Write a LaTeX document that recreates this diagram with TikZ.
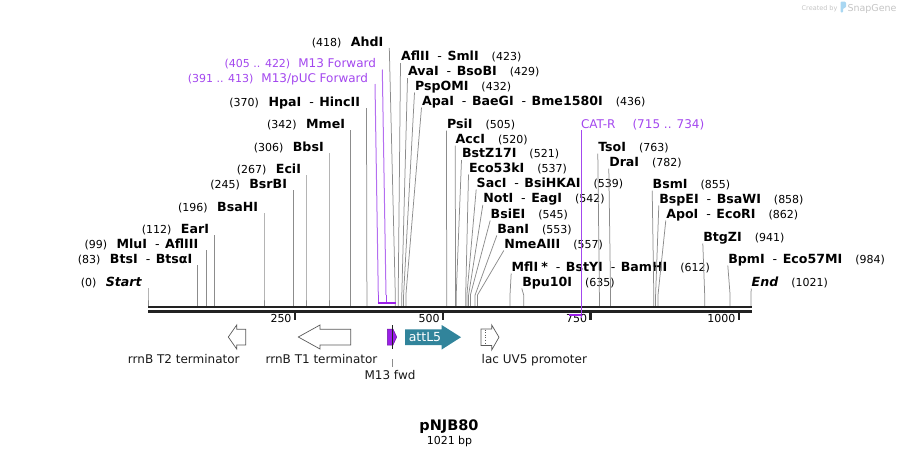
\documentclass[tikz,border=0pt]{standalone}
\usepackage{fontspec}
\setmainfont{DejaVu Sans}
\definecolor{cutgray}{HTML}{8C8C8C}
\definecolor{bb}{HTML}{222222}
\definecolor{prim}{HTML}{A347EE}
\definecolor{primline}{HTML}{B46EF0}
\definecolor{featpurple}{HTML}{9B1FE8}
\definecolor{tealf}{HTML}{31849B}
\definecolor{featline}{HTML}{5A5A5A}
\definecolor{wm}{HTML}{C4C4C4}
\definecolor{wmblue}{HTML}{A9D7F2}
\newcommand\rpos[1]{{\fontsize{11pt}{12pt}\selectfont(#1)}}
\newcommand\renz[1]{{\fontsize{12.6pt}{14pt}\selectfont\bfseries #1}}
\newcommand\rdash{\hspace{8pt}{\mdseries -}\hspace{5.5pt}}
\newcommand\cutL[7]{%
  \node[lbl, anchor=base east] (#1) at (#2,#3) {\rpos{#6}\hspace{9.5pt}\renz{#7}};
  \coordinate (#1t) at (#4,#3+2);
  \coordinate (#1b) at (#5,295);
  \coordinate (#1s) at (#5,306);
  \draw[cut] (#1t) -- (#1b) -- (#1s);
}
\newcommand\cutR[6]{%
  \node[lbl, anchor=base west] (#1) at (#2,#3) {\renz{#5}\hspace{13pt}\rpos{#6}};
  \coordinate (#1t) at (#2-0.5,#3+2.5);
  \coordinate (#1b) at (#4,295);
  \coordinate (#1s) at (#4,306);
  \draw[cut] (#1t) -- (#1b) -- (#1s);
}
\begin{document}
\begin{tikzpicture}[x=1pt,y=-1pt,
  lbl/.style={inner sep=0pt, outer sep=0pt},
  cut/.style={draw=cutgray, line width=0.75pt},
  backbone/.style={draw=bb, line width=2.6pt},
  tickmark/.style={draw=bb, line width=2.2pt},
  ticklbl/.style={lbl, anchor=base east, font=\fontsize{11pt}{12pt}\selectfont},
  featarrow/.style={draw=featline, line width=0.7pt, fill=white},
  featlbl/.style={lbl, anchor=base, text=black!90, font=\fontsize{12pt}{14pt}\selectfont},
  primtxt/.style={lbl, text=prim},
  primln/.style={draw=primline, line width=1pt}]
\useasboundingbox (0,0) rectangle (900,456);

% watermark
\node[lbl, anchor=base west, text=wm] (wm1) at (801.7,10) {\fontsize{6.5pt}{7pt}\selectfont Created by};
\fill[wmblue, rounded corners=1pt] (840.5,1.5) -- (845.5,1.5) -- (846.5,5) -- (845.5,8) -- (843,8) -- (843,12.5) -- (840.5,12.5) -- cycle;
\node[lbl, anchor=base west, text=wm] (wm2) at (847.5,11) {\fontsize{9.5pt}{10pt}\selectfont SnapGene};

% left-side cut sites
\cutL{cStart}{141.7}{286}{148}{148}{0}{\itshape Start}
\cutL{cBtsI}{192.3}{263}{197.1}{197.1}{83}{BtsI\rdash BtsαI}
\cutL{cMluI}{198.3}{248}{206.6}{206.6}{99}{MluI\rdash AflIII}
\cutL{cEarI}{209}{233}{214.3}{214.3}{112}{EarI}
\cutL{cBsaHI}{258}{211}{264}{264}{196}{BsaHI}
\cutL{cBsrBI}{287}{188}{292.9}{292.9}{245}{BsrBI}
\cutL{cEciI}{301}{173}{306}{306}{267}{EciI}
\cutL{cBbsI}{323.7}{151}{329}{329}{306}{BbsI}
\cutL{cMmeI}{345}{128}{350.3}{350.3}{342}{MmeI}
\cutL{cHpaI}{360}{106}{366.5}{366.9}{370}{HpaI\rdash HincII}
\cutL{cAhdI}{383.3}{46}{389.3}{395.3}{418}{AhdI}

% right-side cut sites
\cutR{cAflII}{401}{60.7}{398.2}{AflII\rdash SmlI}{423}
\cutR{cAvaI}{408}{75.7}{401.8}{AvaI\rdash BsoBI}{429}
\cutR{cPspOMI}{415}{90}{403.6}{PspOMI}{432}
\cutR{cApaI}{422}{105}{405.9}{ApaI\rdash BaeGI\rdash Bme1580I}{436}
\cutR{cPsiI}{447}{128}{446.7}{PsiI}{505}
\cutR{cAccI}{455.7}{143}{455.6}{AccI}{520}
\cutR{cBstZ}{462}{157.5}{456.2}{BstZ17I}{521}
\cutR{cEco53}{469}{172}{465.7}{Eco53kI}{537}
\cutR{cSacI}{476.7}{187}{466.9}{SacI\rdash BsiHKAI}{539}
\cutR{cNotI}{483.3}{202.5}{468.6}{NotI\rdash EagI}{542}
\cutR{cBsiEI}{490.7}{218}{470.4}{BsiEI}{545}
\cutR{cBanI}{497.3}{233}{475.1}{BanI}{553}
\cutR{cNme}{504.3}{248}{477.5}{NmeAIII}{557}
\cutR{cMflI}{511.7}{271}{510}{MflI\hspace{3pt}*\rdash BstYI\rdash BamHI}{612}
\cutR{cBpu}{522.3}{286}{523.7}{Bpu10I}{635}
\cutR{cTsoI}{598.3}{151}{599.4}{TsoI}{763}
\cutR{cDraI}{609.3}{166}{610.6}{DraI}{782}
\cutR{cBsmI}{652.7}{188}{653.8}{BsmI}{855}
\cutR{cBspEI}{659.3}{203}{655.6}{BspEI\rdash BsaWI}{858}
\cutR{cApoI}{666.3}{218}{658}{ApoI\rdash EcoRI}{862}
\cutR{cBtgZI}{703.3}{241}{704.7}{BtgZI}{941}
\cutR{cBpmI}{728.3}{263}{730.1}{BpmI\rdash Eco57MI}{984}
\cutR{cEnd}{751.7}{286}{751}{\itshape End}{1021}

% backbone
\coordinate (bbL1) at (148,307);
\coordinate (bbR1) at (752,307);
\coordinate (bbL2) at (148,311.3);
\coordinate (bbR2) at (752,311.3);
\draw[backbone] (bbL1) -- (bbR1);
\draw[backbone] (bbL2) -- (bbR2);

% scale ticks
\foreach \v/\xx in {250/295, 500/443, 750/590.5, 1000/738.8}{
  \coordinate (tk\v a) at (\xx,311);
  \coordinate (tk\v b) at (\xx,320);
  \draw[tickmark] (tk\v a) -- (tk\v b);
  \node[ticklbl] (tl\v) at (\xx-3.5,322.5) {\v};
}

% primers M13 (forward strand)
\node[lbl, anchor=base east] (pM13F) at (376,67.5) {\textcolor{prim}{\rpos{405 .. 422}\hspace{8pt}{\fontsize{12pt}{14pt}\selectfont M13 Forward}}};
\node[lbl, anchor=base east] (pM13P) at (368,82.5) {\textcolor{prim}{\rpos{391 .. 413}\hspace{8pt}{\fontsize{12pt}{14pt}\selectfont M13/pUC Forward}}};
\coordinate (pM13Ft) at (382.3,69.5);
\coordinate (pM13Fb) at (386,295);
\coordinate (pM13Fs) at (386,302.5);
\coordinate (pM13Pt) at (375,84);
\coordinate (pM13Pb) at (378.3,295);
\coordinate (pM13Ps) at (378.3,302.5);
\draw[primln] (pM13Ft) -- (pM13Fb);
\draw[primln] (pM13Pt) -- (pM13Pb);
\draw[draw=prim, line width=1pt] (pM13Fb) -- (pM13Fs);
\draw[draw=prim, line width=1pt] (pM13Pb) -- (pM13Ps);
\coordinate (barL) at (377.7,302.7);
\coordinate (barR) at (395.7,302.7);
\draw[draw=featpurple, line width=2pt] (barL) -- (barR);

% primer CAT-R (reverse strand)
\node[lbl, anchor=base west] (pCAT) at (581,128) {\textcolor{prim}{{\fontsize{12pt}{14pt}\selectfont CAT-R}\hspace{17pt}{\fontsize{12pt}{14pt}\selectfont(715 .. 734)}}};
\coordinate (pCATt) at (581,130);
\coordinate (pCATs) at (581,317.5);
\draw[draw=prim, line width=1pt] (pCATt) -- (pCATs);
\coordinate (cbarL) at (569,315.3);
\coordinate (cbarR) at (581.5,315.3);
\draw[draw=featpurple, line width=2pt] (cbarL) -- (cbarR);

% features
\draw[featarrow] (228.3,337) -- (236.7,325) -- (236.7,329.3) -- (245.7,329.3) -- (245.7,345) -- (236.7,345) -- (236.7,349) -- cycle;
\node[featlbl] (fT2) at (183.8,363) {rrnB T2 terminator};
\draw[featarrow] (298.3,337) -- (320,325) -- (320,329.3) -- (350.7,329.3) -- (350.7,345) -- (320,345) -- (320,349) -- cycle;
\node[featlbl] (fT1) at (321.5,363) {rrnB T1 terminator};

\draw[draw=featpurple!70!black, line width=0.5pt, fill=featpurple] (387.3,329) -- (393,329) -- (396.7,337) -- (393,345) -- (387.3,345) -- cycle;
\coordinate (m13a) at (392.3,325);
\coordinate (m13b) at (392.3,349);
\draw[draw=bb, line width=0.6pt] (m13a) -- (m13b);
\node[featlbl] (fM13) at (390,379) {M13 fwd};
\coordinate (m13c) at (392.3,359);
\coordinate (m13d) at (392.3,366.7);
\draw[draw=cutgray, line width=0.6pt] (m13c) -- (m13d);

\fill[tealf] (405,329.3) -- (441.7,329.3) -- (441.7,325) -- (461,337.2) -- (441.7,349.5) -- (441.7,345) -- (405,345) -- cycle;
\node[lbl, text=white, font=\fontsize{12.5pt}{14pt}\selectfont] (fattL5) at (425,337.2) {attL5};

\draw[featarrow] (481,329) -- (491.7,329) -- (491.7,325) -- (499,337.2) -- (491.7,350) -- (491.7,345.5) -- (481,345.5) -- cycle;
\draw[draw=featline, line width=0.6pt, dotted] (485.7,329.5) -- (485.7,345);
\node[featlbl, anchor=base west] (flac) at (481.7,363) {lac UV5 promoter};

% title
\node[lbl, anchor=base] (title) at (449,430) {\fontsize{14.5pt}{16pt}\selectfont\bfseries pNJB80};
\node[lbl, anchor=base] (size) at (449.5,444.3) {\fontsize{11pt}{12pt}\selectfont 1021 bp};
\end{tikzpicture}
\end{document}
